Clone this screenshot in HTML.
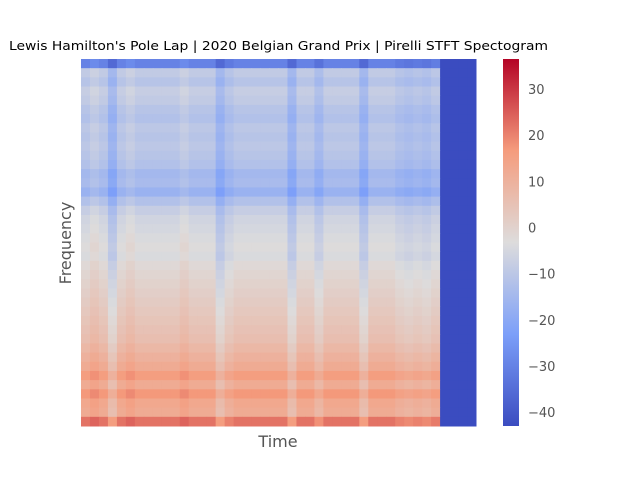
<!DOCTYPE html>
<html><head><meta charset="utf-8">
<style>
body{margin:0;background:#fff;}
svg text{font-family:"DejaVu Sans","Liberation Sans",sans-serif;}
</style></head>
<body>
<svg id="chart" width="640" height="480" viewBox="0 0 640 480" xmlns="http://www.w3.org/2000/svg">
<defs>
<linearGradient id="cw" x1="0" y1="1" x2="0" y2="0">
<stop offset="0" stop-color="rgb(59,76,192)"/>
<stop offset="0.25" stop-color="rgb(124,159,249)"/>
<stop offset="0.5" stop-color="rgb(221,220,220)"/>
<stop offset="0.75" stop-color="rgb(245,156,125)"/>
<stop offset="1" stop-color="rgb(180,4,38)"/>
</linearGradient>
</defs>
<text x="9" y="50" font-size="12" textLength="539" lengthAdjust="spacingAndGlyphs" fill="#000">Lewis Hamilton's Pole Lap | 2020 Belgian Grand Prix | Pirelli STFT Spectogram</text>
<g id="heat"></g>
<text x="278" y="447" font-size="16" text-anchor="middle" fill="#555">Time</text>
<text x="71" y="243" font-size="16" text-anchor="middle" fill="#555" transform="rotate(-90 71 243)">Frequency</text>
<rect x="503" y="59" width="16" height="367" fill="url(#cw)"/>
<g id="cbticks"></g>
</svg>
<script>
const rowProfile=[-30,-9,-11,-8,-9,-11,-12,-10,-11,-10,-11,-12,-15,-14,-17,-12,-8,-6,-5,-4,-3,-4,-2,-1,0,1,2,3,4,5,6,8,10,12,16,12,17,13,12,22];
const colOffset=[0,2,0,-6,0,2,0,0,0,0,0,2,0,0,0,-6,-2,0,0,0,0,0,0,-6,0,0,-4,0,0,0,0,-6,0,0,0,-2,-3,-2,-3,-1,-100,-100,-100,-100];
const cbTicks=[30,20,10,0,-10,-20,-30,-40];
const vmin=-43, vmax=36.5;
const X0=81,X1=476,Y0=59,Y1=426;
const stops=[[0,[59,76,192]],[0.25,[124,159,249]],[0.5,[221,220,220]],[0.75,[245,156,125]],[1,[180,4,38]]];
function cmap(v){let t=(v-vmin)/(vmax-vmin);t=Math.max(0,Math.min(1,t));
 for(let i=0;i<stops.length-1;i++){const a=stops[i],b=stops[i+1];if(t<=b[0]){const f=(t-a[0])/(b[0]-a[0]);
 return 'rgb('+a[1].map((c,k)=>Math.round(c+(b[1][k]-c)*f)).join(',')+')';}}return 'rgb(180,4,38)';}
const NS='http://www.w3.org/2000/svg';
const heat=document.getElementById('heat');
const cw=(X1-X0)/colOffset.length, rh=(Y1-Y0)/rowProfile.length;
function xs(i){return X0+i*cw;} function ys(j){return Y0+j*rh;}
rowProfile.forEach((rv,j)=>{colOffset.forEach((cv,i)=>{
 const r=document.createElementNS(NS,'rect');
 
 
 r.setAttribute('x',xs(i));r.setAttribute('y',ys(j));
 r.setAttribute('width',cw+0.5);r.setAttribute('height',rh+0.5);
 r.setAttribute('fill',cmap(rv+cv));heat.appendChild(r);});});
const cb=document.getElementById('cbticks');
function cy(v){return Y1-(v-vmin)/(vmax-vmin)*(Y1-Y0);}
cbTicks.forEach(v=>{
 const t=document.createElementNS(NS,'text');
 
 
 t.setAttribute('x',528);t.setAttribute('y',cy(v)+5);t.setAttribute('font-size','13');t.setAttribute('fill','#555');
 t.textContent=v<0?'\u2212'+Math.abs(v):String(v);cb.appendChild(t);});
</script>
</body></html>
